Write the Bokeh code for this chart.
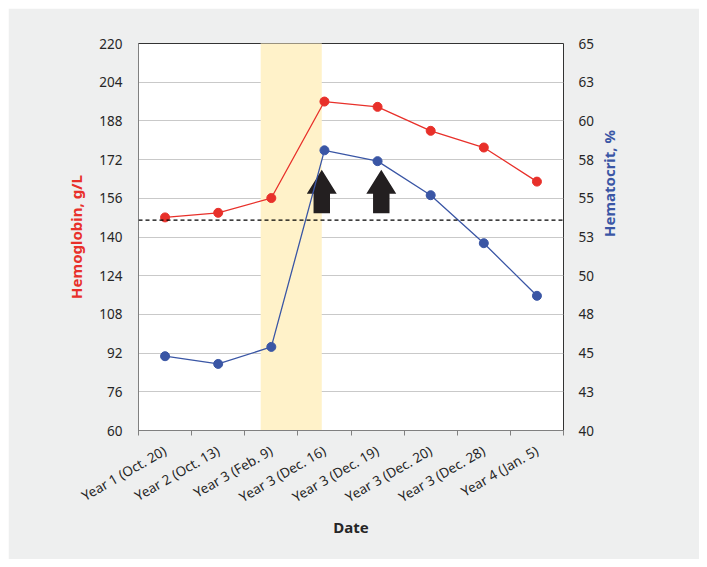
import math
from bokeh.plotting import figure
from bokeh.models import Range1d, LinearAxis, FixedTicker, Span, BoxAnnotation
from bokeh.embed import file_html
from bokeh.resources import INLINE

# ---- data ----
categories = ["Year 1 (Oct. 20)", "Year 2 (Oct. 13)", "Year 3 (Feb. 9)", "Year 3 (Dec. 16)",
              "Year 3 (Dec. 19)", "Year 3 (Dec. 20)", "Year 3 (Dec. 28)", "Year 4 (Jan. 5)"]
hemoglobin = [148.1, 150.0, 156.1, 196.0, 193.8, 183.9, 177.0, 162.9]   # g/L
hematocrit = [44.8, 44.3, 45.4, 58.1, 57.4, 55.2, 52.1, 48.7]          # %
left_ticks = [60, 76, 92, 108, 124, 140, 156, 172, 188, 204, 220]
right_ticks = [40, 42.5, 45, 47.5, 50, 52.5, 55, 57.5, 60, 62.5, 65]
right_tick_labels = ["40", "43", "45", "48", "50", "53", "55", "58", "60", "63", "65"]
hgb_reference = 147
band_start, band_end = 2.30, 3.45          # shaded period, in category units
arrow_x = [3.45, 4.57]                     # phlebotomy arrows, category units
arrow_tip, arrow_head_base, arrow_bottom = 167.8, 157.9, 149.8

RED = "#e8302a"
BLUE = "#3a56a5"
FONT = "Noto Sans"
TXT = "#262626"
TICK_SIZE = "13.5px"

xs = [i + 0.5 for i in range(len(categories))]

p = figure(width=691, height=551, x_range=Range1d(0, len(categories)), y_range=Range1d(60, 220),
           output_backend="svg", toolbar_location=None,
           min_border_left=130, min_border_right=136, min_border_top=35, min_border_bottom=129,
           background_fill_color="white", border_fill_color="#eeefef")
p.margin = (8, 0, 0, 8)
p.extra_y_ranges = {"hct": Range1d(40, 65)}
p.outline_line_color = "#333333"
p.outline_line_width = 1

# grid
p.xgrid.visible = False
p.ygrid.ticker = FixedTicker(ticks=left_ticks)
p.ygrid.grid_line_color = "#c9c9c9"
p.ygrid.grid_line_width = 1

# x axis
xax = p.xaxis[0]
xax.ticker = FixedTicker(ticks=xs, minor_ticks=list(range(len(categories) + 1)))
xax.major_label_overrides = {x: c for x, c in zip(xs, categories)}
xax.major_label_orientation = math.radians(30)
xax.major_tick_line_color = None
xax.major_tick_in = 0
xax.major_tick_out = 0
xax.minor_tick_in = 0
xax.minor_tick_out = 5
xax.minor_tick_line_color = "#808080"
xax.axis_line_color = "#808080"
xax.major_label_standoff = 14
xax.major_label_text_font = FONT
xax.major_label_text_font_size = TICK_SIZE
xax.major_label_text_color = TXT
xax.axis_label = "Date"
xax.axis_label_text_font = FONT
xax.axis_label_text_font_size = "15px"
xax.axis_label_text_font_style = "bold"
xax.axis_label_text_color = TXT
xax.axis_label_standoff = 0

# left axis
yl = p.yaxis[0]
yl.ticker = FixedTicker(ticks=left_ticks)
yl.major_tick_line_color = None
yl.minor_tick_line_color = None
yl.major_tick_in = 0
yl.major_tick_out = 0
yl.axis_line_color = "#808080"
yl.major_label_standoff = 16
yl.major_label_text_font = FONT
yl.major_label_text_font_size = TICK_SIZE
yl.major_label_text_color = TXT
yl.axis_label = "Hemoglobin, g/L"
yl.axis_label_text_font = FONT
yl.axis_label_text_font_size = "15px"
yl.axis_label_text_font_style = "bold"
yl.axis_label_text_color = RED
yl.axis_label_standoff = 10

# right axis
yr = LinearAxis(y_range_name="hct", ticker=FixedTicker(ticks=right_ticks),
                major_label_overrides={t: l for t, l in zip(right_ticks, right_tick_labels)})
yr.major_tick_line_color = None
yr.minor_tick_line_color = None
yr.major_tick_in = 0
yr.major_tick_out = 0
yr.axis_line_color = None
yr.major_label_standoff = 15
yr.major_label_text_font = FONT
yr.major_label_text_font_size = TICK_SIZE
yr.major_label_text_color = TXT
yr.axis_label = "Hematocrit, %"
yr.axis_label_orientation = math.pi / 2
yr.axis_label_text_font = FONT
yr.axis_label_text_font_size = "15px"
yr.axis_label_text_font_style = "bold"
yr.axis_label_text_color = BLUE
yr.axis_label_standoff = 12
p.add_layout(yr, "right")

# shaded band
band = BoxAnnotation(left=band_start, right=band_end, bottom=57.9, top=223.3,
                     fill_color="#fff2c9", fill_alpha=1, line_color=None, level="underlay")
p.add_layout(band)

# reference line
p.add_layout(Span(location=hgb_reference, dimension="width", line_color="black",
                  line_dash="4 3", line_width=1.3))

# arrows
head_hw, shaft_hw = 0.282, 0.155
axs, ays = [], []
for ax_ in arrow_x:
    axs.append([ax_ - shaft_hw, ax_ - shaft_hw, ax_ - head_hw, ax_, ax_ + head_hw, ax_ + shaft_hw, ax_ + shaft_hw])
    ays.append([arrow_bottom, arrow_head_base, arrow_head_base, arrow_tip, arrow_head_base, arrow_head_base, arrow_bottom])
p.patches(axs, ays, fill_color="#231f20", line_color=None)

# series
p.line(xs, hemoglobin, line_color=RED, line_width=1.3)
p.scatter(xs, hemoglobin, size=9, fill_color=RED, line_color=RED)
p.line(xs, hematocrit, line_color=BLUE, line_width=1.3, y_range_name="hct")
p.scatter(xs, hematocrit, size=9, fill_color=BLUE, line_color=BLUE, y_range_name="hct")

open("out.html", "w").write(file_html(p, INLINE))
